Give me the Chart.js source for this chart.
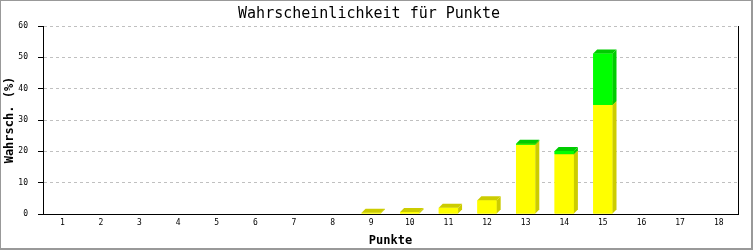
<!DOCTYPE html>
<html>
<head>
<meta charset="utf-8">
<script src="https://cdn.jsdelivr.net/npm/chart.js@4/dist/chart.umd.min.js"></script>
<style>
  body { margin: 0; background: #fff; }
  #wrap { width: 753px; height: 250px; }
</style>
</head>
<body>
<div id="wrap"><canvas id="chart" width="753" height="250"></canvas></div>
<script>
const punkte = ["1", "2", "3", "4", "5", "6", "7", "8", "9", "10", "11", "12", "13", "14", "15", "16", "17", "18"];
const gelbWerte = [null, null, null, null, null, null, null, null, 0.4, 0.6, 2.0, 4.4, 22.1, 19.1, 34.8, null, null, null];
const gruenWerte = [null, null, null, null, null, null, null, null, null, null, null, null, 0.3, 1.0, 16.4, null, null, null];
const yTicks = [0, 10, 20, 30, 40, 50, 60];

const DEPTH = 4;
const mono = "'DejaVu Sans Mono', 'Liberation Mono', monospace";

// 3d look: redraw every stack segment bottom-up (front, side, top),
// using the positions chart.js computed for the bar elements
const bar3d = {
  id: "bar3d",
  afterDatasetsDraw(chart) {
    const ctx = chart.ctx;
    ctx.save();
    chart.data.datasets.forEach((ds, di) => {
      const meta = chart.getDatasetMeta(di);
      meta.data.forEach((bar, i) => {
        const v = ds.data[i];
        if (v === null || v === undefined) return;
        const l = bar.x - bar.width / 2;
        const r = bar.x + bar.width / 2;
        const top = bar.y;
        const base = bar.base;
        ctx.fillStyle = ds.backgroundColor;
        ctx.fillRect(l, top, r - l, base - top);
        ctx.fillStyle = ds.sideColor;
        // right side
        ctx.beginPath();
        ctx.moveTo(r, top);
        ctx.lineTo(r + DEPTH, top - DEPTH);
        ctx.lineTo(r + DEPTH, base - DEPTH);
        ctx.lineTo(r, base);
        ctx.closePath();
        ctx.fill();
        // top
        ctx.beginPath();
        ctx.moveTo(l, top);
        ctx.lineTo(l + DEPTH, top - DEPTH);
        ctx.lineTo(r + DEPTH, top - DEPTH);
        ctx.lineTo(r, top);
        ctx.closePath();
        ctx.fill();
      });
    });
    ctx.restore();
  },
};

// right edge of the plot and the grey image frame
const frame = {
  id: "frame",
  afterDraw(chart) {
    const ctx = chart.ctx;
    const a = chart.chartArea;
    ctx.save();
    ctx.strokeStyle = "#000";
    ctx.lineWidth = 1;
    ctx.beginPath();
    ctx.moveTo(Math.round(a.right) + 0.5, a.top);
    ctx.lineTo(Math.round(a.right) + 0.5, a.bottom);
    ctx.stroke();
    ctx.fillStyle = "#999";
    ctx.fillRect(0, 0, 753, 1);
    ctx.fillRect(0, 0, 1, 250);
    ctx.fillRect(751, 0, 2, 250);
    ctx.fillRect(0, 248, 753, 2);
    ctx.restore();
  },
};

new Chart(document.getElementById("chart"), {
  type: "bar",
  data: {
    labels: punkte,
    datasets: [
      {
        data: gelbWerte,
        backgroundColor: "#ffff00",
        sideColor: "#cccc00",
        borderWidth: 0,
        barPercentage: 0.5,
        categoryPercentage: 1,
      },
      {
        data: gruenWerte,
        backgroundColor: "#00ff00",
        sideColor: "#00cc00",
        borderWidth: 0,
        barPercentage: 0.5,
        categoryPercentage: 1,
      },
    ],
  },
  options: {
    responsive: false,
    animation: false,
    layout: { padding: { left: 0, right: 15, top: 0, bottom: 0 } },
    plugins: {
      legend: { display: false },
      tooltip: { enabled: false },
      title: {
        display: true,
        text: "Wahrscheinlichkeit für Punkte",
        color: "#000",
        font: { family: mono, size: 15, weight: "normal", lineHeight: 1.2 },
        padding: { top: 5, bottom: 3 },
      },
    },
    scales: {
      x: {
        stacked: true,
        grid: { display: false, drawTicks: false },
        border: { display: true, color: "#000", width: 1 },
        ticks: { color: "#000", font: { family: mono, size: 8 }, padding: 4, maxRotation: 0, autoSkip: false },
        title: {
          display: true,
          text: "Punkte",
          color: "#000",
          font: { family: mono, size: 12, weight: "bold" },
          padding: { top: 0, bottom: 2 },
        },
        afterFit(scale) { scale.height = 36; },
      },
      y: {
        stacked: true,
        min: 0,
        max: 60,
        afterBuildTicks(scale) { scale.ticks = yTicks.map((v) => ({ value: v })); },
        grid: {
          color: (c) => (c.tick && c.tick.value === 0 ? "rgba(0,0,0,0)" : "#c0c0c0"),
          tickColor: "#000",
          tickBorderDash: [],
          tickLength: 5,
        },
        border: { display: true, color: "#000", width: 1, dash: [3, 3] },
        ticks: { color: "#000", font: { family: mono, size: 8 }, padding: 10 },
        title: {
          display: true,
          text: "Wahrsch. (%)",
          color: "#000",
          font: { family: mono, size: 12, weight: "bold" },
          padding: { top: 3, bottom: 0 },
        },
        afterFit(scale) { scale.width = 43; },
      },
    },
  },
  plugins: [bar3d, frame],
});
</script>
</body>
</html>
